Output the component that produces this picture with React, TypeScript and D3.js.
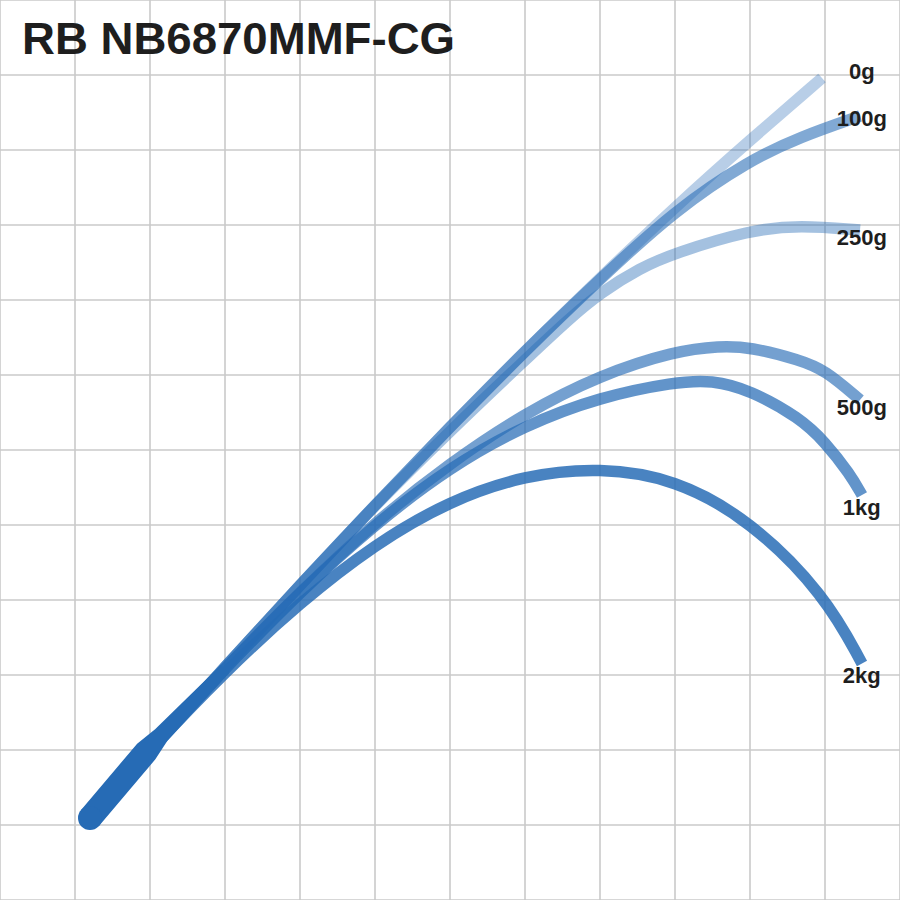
import React from "react";
import * as d3 from "d3";

const TITLE = "RB NB6870MMF-CG";
const GRID_TICKS = [0, 1, 2, 3, 4, 5, 6, 7, 8, 9, 10, 11, 12];

// curve points in grid units (1 unit = one grid cell)
const LOADS = ["0g", "100g", "250g", "500g", "1kg", "2kg"];

const X_0G = [1.2, 2.0, 3.0, 4.0, 5.0, 6.0, 7.0, 8.0, 9.0, 10.0, 10.96];
const Y_0G = [1.093, 2.0, 3.107, 4.2, 5.267, 6.307, 7.32, 8.293, 9.24, 10.133, 10.96];

const X_100G = [1.2, 2.0, 3.0, 4.0, 5.0, 6.0, 7.0, 8.0, 9.0, 10.0, 10.667, 11.467];
const Y_100G = [1.093, 2.0, 3.107, 4.2, 5.267, 6.307, 7.32, 8.28, 9.2, 9.867, 10.173, 10.453];

const X_250G = [1.2, 2.0, 3.0, 4.0, 5.0, 6.0, 7.0, 7.6, 8.0, 8.533, 9.0, 10.0, 10.667, 11.467];
const Y_250G = [1.093, 2.0, 3.107, 4.2, 5.267, 6.253, 7.2, 7.76, 8.093, 8.427, 8.627, 8.933, 9.0, 8.933];

const X_500G = [1.2, 2.0, 3.0, 4.0, 5.0, 6.0, 7.0, 8.0, 9.0, 9.6, 10.0, 10.667, 11.0, 11.467];
const Y_500G = [1.093, 2.0, 3.093, 4.107, 5.04, 5.827, 6.493, 7.0, 7.32, 7.387, 7.373, 7.2, 7.067, 6.667];

const X_1KG = [1.2, 2.0, 3.0, 4.0, 5.0, 6.0, 7.0, 8.0, 9.0, 9.493, 10.0, 10.667, 11.0, 11.333, 11.493];
const Y_1KG = [1.093, 2.0, 3.093, 4.107, 5.013, 5.773, 6.333, 6.707, 6.907, 6.933, 6.8, 6.427, 6.107, 5.68, 5.4];

const X_2KG = [1.2, 2.0, 3.0, 4.0, 5.0, 6.0, 7.0, 8.0, 9.0, 10.0, 11.0, 11.493];
const Y_2KG = [1.093, 2.0, 3.047, 3.967, 4.747, 5.327, 5.667, 5.767, 5.617, 5.067, 4.067, 3.153];

const CURVE_X = [X_0G, X_100G, X_250G, X_500G, X_1KG, X_2KG];
const CURVE_Y = [Y_0G, Y_100G, Y_250G, Y_500G, Y_1KG, Y_2KG];
const CURVE_OPACITY = [0.33, 0.58, 0.42, 0.64, 0.72, 0.84];

// label anchor positions in grid units
const LABEL_X = [11.49, 11.49, 11.49, 11.49, 11.49, 11.49];
const LABEL_Y = [10.95, 10.32, 8.73, 6.47, 5.13, 2.89];

// handle (butt) centerline and widths
const BUTT_X = [1.2, 1.95, 2.15, 3.0];
const BUTT_Y = [1.093, 1.98, 2.2, 3.08];
const BUTT_W = [24, 24, 17, 11.5];

const W = 900;
const H = 900;
const BLUE = "#266bb5";

export default function App() {
  const x = d3.scaleLinear().domain([0, 12]).range([0, W]);
  const y = d3.scaleLinear().domain([0, 12]).range([H, 0]);

  const line = d3
    .line<[number, number]>()
    .x((d) => x(d[0]))
    .y((d) => y(d[1]))
    .curve(d3.curveBasis);

  // butt polygon
  const pts = BUTT_X.map((bx, i) => [x(bx), y(BUTT_Y[i])]);
  const left: [number, number][] = [];
  const right: [number, number][] = [];
  pts.forEach((p, i) => {
    const a = pts[Math.max(0, i - 1)];
    const b = pts[Math.min(pts.length - 1, i + 1)];
    const dx = b[0] - a[0];
    const dy = b[1] - a[1];
    const len = Math.hypot(dx, dy);
    const nx = -dy / len;
    const ny = dx / len;
    const hw = BUTT_W[i] / 2;
    left.push([p[0] + nx * hw, p[1] + ny * hw]);
    right.push([p[0] - nx * hw, p[1] - ny * hw]);
  });
  const poly = left.concat(right.reverse());
  const polyPath = d3.line().curve(d3.curveLinearClosed)(poly) || "";

  return (
    <svg
      width={W}
      height={H}
      style={{ position: "absolute", left: 0, top: 0, background: "#fff" }}
      xmlns="http://www.w3.org/2000/svg"
    >
      <rect x={0} y={0} width={W} height={H} fill="#fff" />
      <g stroke="#cacaca" strokeWidth={1.6}>
        {GRID_TICKS.map((t) => (
          <line key={"v" + t} x1={x(t)} x2={x(t)} y1={0} y2={H} />
        ))}
        {GRID_TICKS.map((t) => (
          <line key={"h" + t} x1={0} x2={W} y1={y(t)} y2={y(t)} />
        ))}
      </g>
      <text
        x={22}
        y={54}
        fontFamily="'Liberation Sans', Arial, sans-serif"
        fontWeight="bold"
        fontSize={44}
        fill="#1e1e1e"
        textLength={433}
        lengthAdjust="spacingAndGlyphs"
      >
        {TITLE}
      </text>
      <g fill="none" strokeLinecap="butt" strokeLinejoin="round">
        {LOADS.map((name, i) => {
          const data = CURVE_X[i].map((cx, j) => [cx, CURVE_Y[i][j]] as [number, number]);
          return (
            <path
              key={name}
              d={line(data) || ""}
              stroke={BLUE}
              strokeOpacity={CURVE_OPACITY[i]}
              strokeWidth={11.5}
            />
          );
        })}
      </g>
      <path d={polyPath} fill={BLUE} />
      <circle cx={pts[0][0]} cy={pts[0][1]} r={BUTT_W[0] / 2} fill={BLUE} />
      <g
        fontFamily="'Liberation Sans', Arial, sans-serif"
        fontWeight="bold"
        fontSize={22}
        fill="#1e1e1e"
        textAnchor="middle"
      >
        {LOADS.map((name, i) => (
          <text key={name} x={x(LABEL_X[i])} y={y(LABEL_Y[i])}>
            {name}
          </text>
        ))}
      </g>
    </svg>
  );
}
